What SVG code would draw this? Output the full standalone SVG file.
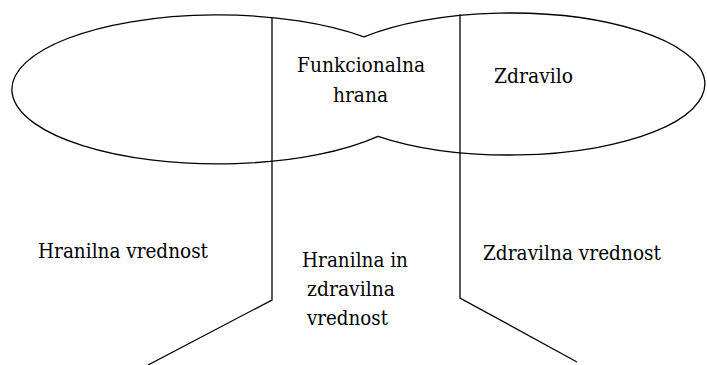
<svg xmlns="http://www.w3.org/2000/svg" width="707" height="365" viewBox="0 0 707 365">
<style>
.ln{fill:none;stroke:#000;stroke-width:1.3}
.t{font-family:"DejaVu Serif","Liberation Serif",serif;font-size:20px;fill:#000}
</style>
<rect width="707" height="365" fill="#fff"/>
<g id="shape">
<path class="ln" d="M364,36.9 A206,74.5 0 1 0 378,136.3 A195,71 0 1 0 364,36.9 Z"/>
</g>
<g id="connectors">
<polyline class="ln" points="272,17.6 272,300 148,365"/>
<polyline class="ln" points="460,14.5 460,298 577,362"/>
</g>
<g id="node-funkcionalna">
<text class="t" x="297" y="72" textLength="128" lengthAdjust="spacingAndGlyphs">Funkcionalna</text>
<text class="t" x="333" y="102" textLength="55" lengthAdjust="spacingAndGlyphs">hrana</text>
</g>
<g id="node-zdravilo">
<text class="t" x="494" y="83" textLength="79" lengthAdjust="spacingAndGlyphs">Zdravilo</text>
</g>
<g id="node-hranilna">
<text class="t" x="38" y="258" textLength="170" lengthAdjust="spacingAndGlyphs">Hranilna vrednost</text>
</g>
<g id="node-both">
<text class="t" x="302" y="267" textLength="106" lengthAdjust="spacingAndGlyphs">Hranilna in</text>
<text class="t" x="307" y="296" textLength="88" lengthAdjust="spacingAndGlyphs">zdravilna</text>
<text class="t" x="307" y="325" textLength="81" lengthAdjust="spacingAndGlyphs">vrednost</text>
</g>
<g id="node-zdravilna">
<text class="t" x="483" y="260" textLength="178" lengthAdjust="spacingAndGlyphs">Zdravilna vrednost</text>
</g>
</svg>
